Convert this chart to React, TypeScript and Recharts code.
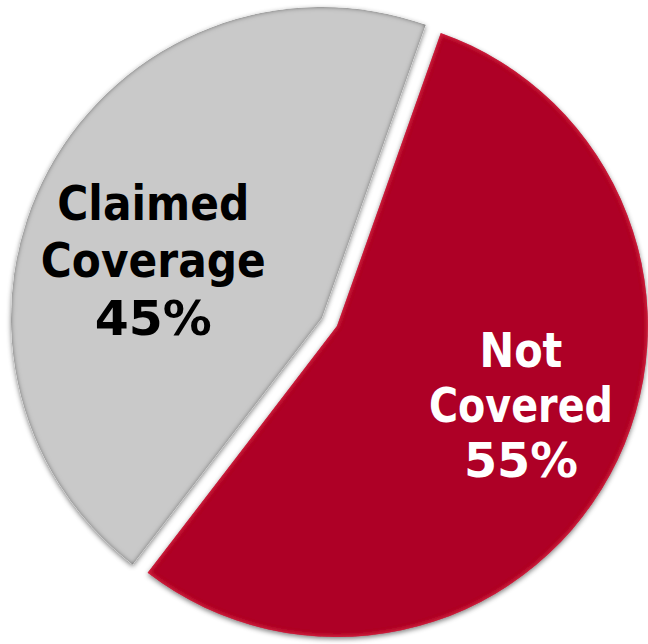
import React from 'react';
import { PieChart, Pie, Cell } from 'recharts';

const categories = ['Not Covered', 'Claimed Coverage'];
const values = [55, 45];
const labelLines = [
  ['Not', 'Covered'],
  ['Claimed', 'Coverage'],
];

const COLORS = ['#AE0528', '#C9C9C9'];
const TEXT_COLORS = ['#FFFFFF', '#000000'];
const FILTERS = ['url(#redBevel)', 'url(#grayBevel)'];

const data = categories.map((name, i) => ({ name, value: values[i] }));

const W = 648;
const H = 644;
const CX = 322;
const CY = 318;
const R = 311;
const START = 70.5;
const EXPLODE = 17;
const RAD = Math.PI / 180;

const total = values.reduce((a, b) => a + b, 0);
const redMid = START - (360 * values[0]) / total / 2;
const EX = EXPLODE * Math.cos(redMid * RAD);
const EY = -EXPLODE * Math.sin(redMid * RAD);

// per-slice label placement: angle tweak (deg) and radius factor
const labelAngleShift = [1, 15];
const labelRadiusFactor = [0.667, 0.558];
const lineGap = [55, 57.5];
const lineWidths = [
  [83, 184, 114],
  [192, 225, 117],
];

const makeLabel = (which: number) => (props: any) => {
  const { cx, cy, midAngle, outerRadius, index } = props;
  if (index !== which) return <g />;
  const a = (midAngle + labelAngleShift[index]) * RAD;
  const r = outerRadius * labelRadiusFactor[index];
  const x = cx + r * Math.cos(a);
  const y = cy - r * Math.sin(a);
  const lines = [...labelLines[index], `${values[index]}%`];
  const gap = lineGap[index];
  return (
    <g>
      {lines.map((t, k) => (
        <text
          key={k}
          x={x}
          y={y + (k - 1) * gap}
          textAnchor="middle"
          fill={TEXT_COLORS[index]}
          fontFamily="'DejaVu Sans', Verdana, sans-serif"
          fontWeight="bold"
          fontSize={48}
          textLength={lineWidths[index][k]}
          lengthAdjust="spacingAndGlyphs"
        >
          {t}
        </text>
      ))}
    </g>
  );
};

const Defs = () => (
  <svg width={0} height={0} style={{ position: 'absolute' }}>
    <defs>
      <filter id="grayBevel" x="-10%" y="-10%" width="120%" height="120%">
        <feGaussianBlur in="SourceAlpha" stdDeviation="2.5" result="blur" />
        <feOffset in="blur" dx="0" dy="2" result="off" />
        <feFlood floodColor="#000" floodOpacity="0.5" />
        <feComposite in2="off" operator="in" result="shadow" />
        <feGaussianBlur in="SourceAlpha" stdDeviation="2.5" result="blur2" />
        <feComposite in="SourceAlpha" in2="blur2" operator="arithmetic" k2="1" k3="-1" result="edge" />
        <feFlood floodColor="#000" floodOpacity="0.9" />
        <feComposite in2="edge" operator="in" result="innerShade" />
        <feMerge>
          <feMergeNode in="shadow" />
          <feMergeNode in="SourceGraphic" />
          <feMergeNode in="innerShade" />
        </feMerge>
      </filter>
      <filter id="redBevel" x="-10%" y="-10%" width="120%" height="120%">
        <feGaussianBlur in="SourceAlpha" stdDeviation="2.5" result="blur" />
        <feOffset in="blur" dx="0" dy="2" result="off" />
        <feFlood floodColor="#000" floodOpacity="0.5" />
        <feComposite in2="off" operator="in" result="shadow" />
        <feGaussianBlur in="SourceAlpha" stdDeviation="2.5" result="blur2" />
        <feComposite in="SourceAlpha" in2="blur2" operator="arithmetic" k2="1" k3="-1" result="edge" />
        <feFlood floodColor="#FF3355" floodOpacity="0.7" />
        <feComposite in2="edge" operator="in" result="innerLight" />
        <feMerge>
          <feMergeNode in="shadow" />
          <feMergeNode in="SourceGraphic" />
          <feMergeNode in="innerLight" />
        </feMerge>
      </filter>
    </defs>
  </svg>
);

export default function App() {
  return (
    <div style={{ position: 'absolute', left: 0, top: 0, width: W, height: H, background: '#fff' }}>
      <Defs />
      <PieChart width={W} height={H} margin={{ top: 0, right: 0, bottom: 0, left: 0 }}>
        <Pie
          data={data}
          dataKey="value"
          nameKey="name"
          cx={CX}
          cy={CY}
          outerRadius={R}
          startAngle={START}
          endAngle={START - 360}
          stroke="none"
          isAnimationActive={false}
          labelLine={false}
          label={makeLabel(1)}
        >
          {data.map((d, i) => (
            <Cell
              key={d.name}
              fill={i === 1 ? COLORS[1] : 'none'}
              stroke="none"
              filter={i === 1 ? FILTERS[1] : undefined}
            />
          ))}
        </Pie>
        <Pie
          data={data}
          dataKey="value"
          nameKey="name"
          cx={CX + EX}
          cy={CY + EY}
          outerRadius={R}
          startAngle={START}
          endAngle={START - 360}
          stroke="none"
          isAnimationActive={false}
          labelLine={false}
          label={makeLabel(0)}
        >
          {data.map((d, i) => (
            <Cell
              key={d.name}
              fill={i === 0 ? COLORS[0] : 'none'}
              stroke="none"
              filter={i === 0 ? FILTERS[0] : undefined}
            />
          ))}
        </Pie>
      </PieChart>
    </div>
  );
}
